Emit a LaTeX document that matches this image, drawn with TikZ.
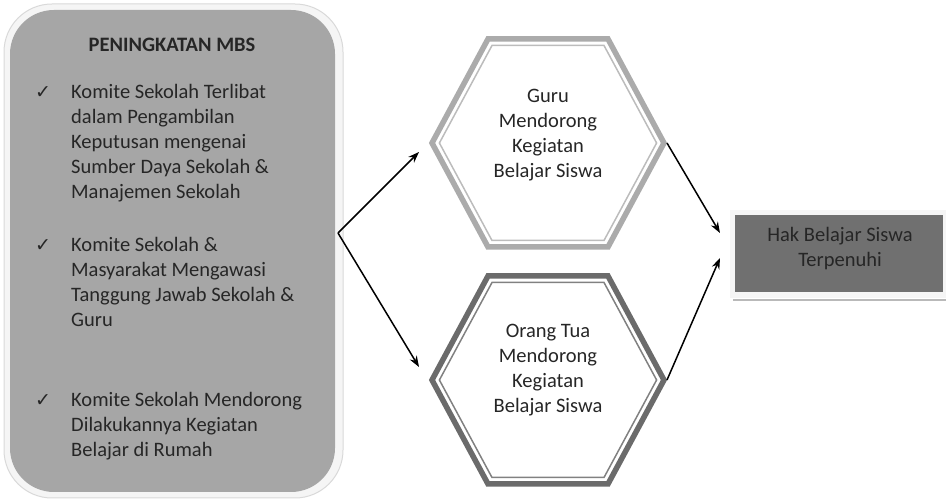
\documentclass[tikz,border=0pt]{standalone}
\usepackage{fontspec}
\setmainfont{Carlito}
\newfontfamily\symfont{DejaVu Sans}
\usepackage{tikz}
\usetikzlibrary{arrows.meta,positioning,backgrounds}
\definecolor{mbsgray}{HTML}{A6A6A6}
\definecolor{hakgray}{HTML}{707070}
\definecolor{hexlight}{HTML}{ABABAB}
\definecolor{hexdark}{HTML}{6B6B6B}
\definecolor{inktext}{HTML}{262626}

\begin{document}
\begin{tikzpicture}[x=1pt, y=-1pt,
    txt/.style={inner sep=0pt, text=inktext, font=\fontsize{20.5}{25}\selectfont},
    item/.style={txt, anchor=base west, align=left},
    tick/.style={inner sep=0pt, anchor=base, text=inktext, font=\symfont\fontsize{19}{19}\selectfont},
    arr/.style={-{Stealth[length=11pt,width=8pt]}, line width=1.5pt, black}]
    \useasboundingbox (0,0) rectangle (946,502);
    % left box with its light rim
    \draw[fill=gray!8, draw=gray!30, line width=1pt, rounded corners=48pt] (4,4) rectangle (343,498);
    \node[fill=mbsgray, rounded corners=44pt, minimum width=325pt, minimum height=482pt, inner sep=0pt] (mbs) at (172.5,251) {};
    \node[txt, font=\fontsize{20.5}{25}\selectfont\bfseries, anchor=base] (judul) at (172,51.5) {PENINGKATAN MBS};
    % base anchor sits on the last line
    \node[item] (item1) at (71,199) {Komite Sekolah Terlibat\\dalam Pengambilan\\Keputusan mengenai\\Sumber Daya Sekolah \&\\Manajemen Sekolah};
    \node[item] (item2) at (71,327) {Komite Sekolah \&\\Masyarakat Mengawasi\\Tanggung Jawab Sekolah \&\\Guru};
    \node[item] (item3) at (71,457) {Komite Sekolah Mendorong\\Dilakukannya Kegiatan\\Belajar di Rumah};
    \foreach \k/\yy in {1/99,2/252,3/407}
        \node[tick] (tick\k) at (43,\yy) {✓};
    % hexagons
    \foreach \nm/\cy/\col/\lin in {guru/143/hexlight/hexlight!80, ortu/380/hexdark/hexdark!85} {
        \begin{scope}[shift={(548,\cy)}]
            \draw[\col, line width=5.5pt] (-116,0) -- (-60,-104) -- (60,-104) -- (116,0) -- (60,104) -- (-60,104) -- cycle;
            \draw[\lin, line width=1.5pt] (-108.6,0) -- (-56,-97.5) -- (56,-97.5) -- (108.6,0) -- (56,97.5) -- (-56,97.5) -- cycle;
            \coordinate (\nm-w) at (-119,0);
            \coordinate (\nm-e) at (119,0);
        \end{scope}
    }
    \node[txt, anchor=base, align=center] (guru) at (548,178) {Guru\\Mendorong\\Kegiatan\\Belajar Siswa};
    \node[txt, anchor=base, align=center] (ortu) at (548,413) {Orang Tua\\Mendorong\\Kegiatan\\Belajar Siswa};
    % result box
    \fill[gray!8] (730,210) rectangle (946,298);
    \draw[gray!55, line width=1.5pt] (733,300) -- (946,300);
    \node[fill=hakgray, minimum width=208pt, minimum height=77pt, inner sep=0pt] (hak) at (839,253.5) {};
    \node[txt, anchor=base, align=center] (hak-teks) at (840,267) {Hak Belajar Siswa\\Terpenuhi};
    % arrows
    \coordinate (split) at (338,233);
    \coordinate (guru-in) at (419,152);
    \coordinate (ortu-in) at (419,367);
    \coordinate (hak-in1) at (720,233);
    \coordinate (hak-in2) at (720,258);
    \draw[arr] (split) -- (guru-in);
    \draw[arr] (split) -- (ortu-in);
    \draw[arr] (guru-e) -- (hak-in1);
    \draw[arr] (ortu-e) -- (hak-in2);
\end{tikzpicture}
\end{document}
